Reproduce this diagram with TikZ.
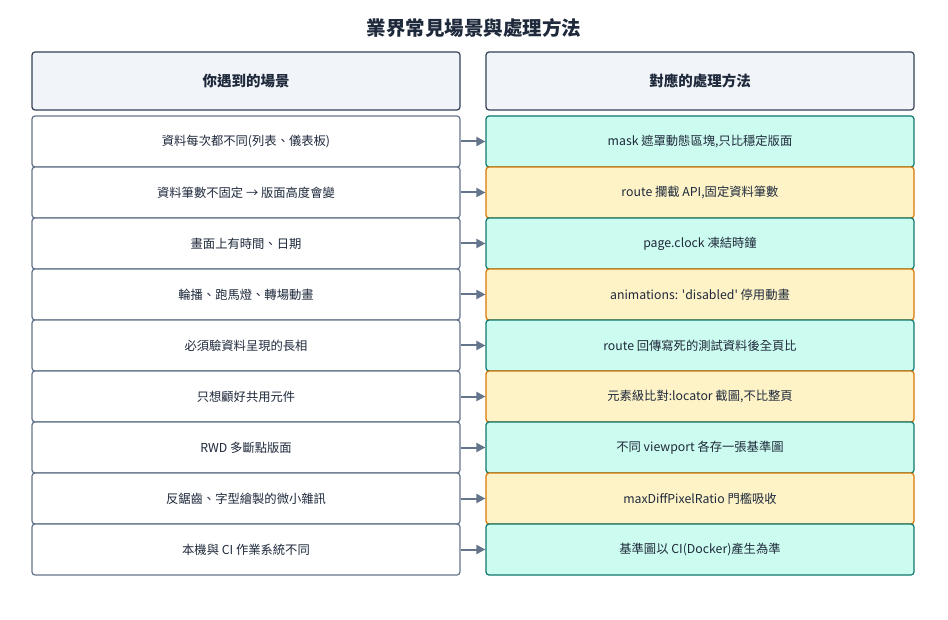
\documentclass[tikz,border=0pt]{standalone}
\usepackage{fontspec}
\setmainfont{Noto Sans CJK TC}
\usetikzlibrary{arrows.meta,positioning}
\definecolor{headfill}{HTML}{F1F4F9}
\definecolor{headline}{HTML}{334155}
\definecolor{rowline}{HTML}{64748B}
\definecolor{tealfill}{HTML}{CCFBEF}
\definecolor{tealline}{HTML}{0F766E}
\definecolor{orangefill}{HTML}{FEF3C7}
\definecolor{orangeline}{HTML}{D97706}
\definecolor{textcol}{HTML}{1E293B}
\tikzset{
  cell/.style={draw, rounded corners=3pt, line width=1.2pt, minimum width=428pt, minimum height=51pt, inner sep=0pt, text=textcol, font=\fontsize{12.3pt}{14pt}\selectfont},
  head/.style={cell, fill=headfill, draw=headline, minimum height=58pt, font=\bfseries\fontsize{14.5pt}{16pt}\selectfont},
  scene/.style={cell, fill=white, draw=rowline},
  fixa/.style={cell, fill=tealfill, draw=tealline},
  fixb/.style={cell, fill=orangefill, draw=orangeline},
  link/.style={draw=rowline, line width=2pt, -{Triangle[length=9pt,width=9pt]}}
}
\begin{document}
\begin{tikzpicture}[x=1pt,y=-1pt]
\useasboundingbox (0,0) rectangle (948,620);
\node[font=\bfseries\fontsize{19.5pt}{22pt}\selectfont, text=textcol] (title) at (474,28) {業界常見場景與處理方法};

% HEADER ROW
\node[head] (hleft) at (246,81) {你遇到的場景};
\node[head] (hright) at (700,81) {對應的處理方法};

% ROWS
\foreach \i/\s/\f/\k in {
  1/{資料每次都不同(列表、儀表板)}/{mask 遮罩動態區塊,只比穩定版面}/fixa,
  2/{資料筆數不固定 → 版面高度會變}/{route 攔截 API,固定資料筆數}/fixb,
  3/{畫面上有時間、日期}/{page.clock 凍結時鐘}/fixa,
  4/{輪播、跑馬燈、轉場動畫}/{animations: \textquotesingle disabled\textquotesingle\ 停用動畫}/fixb,
  5/{必須驗資料呈現的長相}/{route 回傳寫死的測試資料後全頁比}/fixa,
  6/{只想顧好共用元件}/{元素級比對:locator 截圖,不比整頁}/fixb,
  7/{RWD 多斷點版面}/{不同 viewport 各存一張基準圖}/fixa,
  8/{反鋸齒、字型繪製的微小雜訊}/{maxDiffPixelRatio 門檻吸收}/fixb,
  9/{本機與 CI 作業系統不同}/{基準圖以 CI(Docker)產生為準}/fixa}
{
  \node[scene] (s\i) at (246,{90.5+51*\i}) {\s};
  \node[\k] (f\i) at (700,{90.5+51*\i}) {\f};
  \draw[link] (s\i) -- (f\i);
}
\end{tikzpicture}
\end{document}
